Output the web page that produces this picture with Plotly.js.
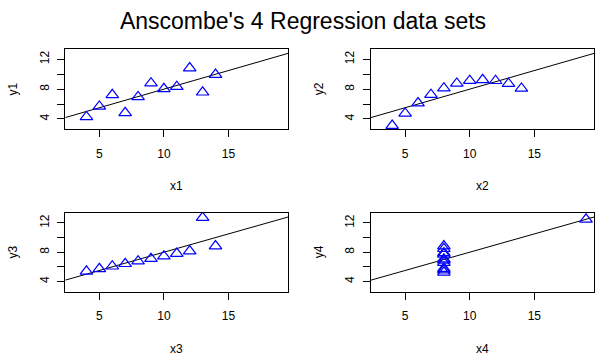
<!DOCTYPE html>
<html>
<head>
<meta charset="utf-8">
<script src="https://cdn.plot.ly/plotly-3.0.1.min.js"></script>
<style>html,body{margin:0;padding:0;background:#fff;}#chart{width:612px;height:358px;}</style>
</head>
<body>
<div id="chart"></div>
<script>
// Anscombe's quartet
const x1 = [10, 8, 13, 9, 11, 14, 6, 4, 12, 7, 5];
const x2 = [10, 8, 13, 9, 11, 14, 6, 4, 12, 7, 5];
const x3 = [10, 8, 13, 9, 11, 14, 6, 4, 12, 7, 5];
const x4 = [8, 8, 8, 8, 8, 8, 8, 19, 8, 8, 8];
const y1 = [8.04, 6.95, 7.58, 8.81, 8.33, 9.96, 7.24, 4.26, 10.84, 4.82, 5.68];
const y2 = [9.14, 8.14, 8.74, 8.77, 9.26, 8.10, 6.13, 3.10, 9.13, 7.26, 4.74];
const y3 = [7.46, 6.77, 12.74, 7.11, 7.81, 8.84, 6.08, 5.39, 8.15, 6.42, 5.73];
const y4 = [6.58, 5.76, 7.71, 8.84, 8.47, 7.04, 5.25, 12.50, 5.56, 7.91, 6.89];
const xLabels = ['x1', 'x2', 'x3', 'x4'];
const yLabels = ['y1', 'y2', 'y3', 'y4'];
const yTickVals = [4, 6, 8, 10, 12];
const yTickText = ['4', '', '8', '', '12'];
const xTickVals = [5, 10, 15];

const xs = [x1, x2, x3, x4];
const ys = [y1, y2, y3, y4];

const xRange = [2.36, 19.64];
const yRange = [2.6, 13.4];

function fit(x, y) {
  const n = x.length;
  const mx = x.reduce((a, b) => a + b, 0) / n;
  const my = y.reduce((a, b) => a + b, 0) / n;
  let sxy = 0, sxx = 0;
  for (let i = 0; i < n; i++) { sxy += (x[i] - mx) * (y[i] - my); sxx += (x[i] - mx) ** 2; }
  const b = sxy / sxx;
  return [my - b * mx, b];
}

const W = 612, H = 358;
const boxes = [
  {l: 65.3, r: 288.3, t: 49, b: 129.3},
  {l: 371, r: 594.3, t: 49, b: 129.3},
  {l: 65.3, r: 288.3, t: 212.7, b: 291.7},
  {l: 371, r: 594.3, t: 212.7, b: 291.7}
];

const FONT = 'Liberation Sans, Arial, sans-serif';
const data = [];
const layout = {
  width: W, height: H,
  margin: {l: 0, r: 0, t: 0, b: 0},
  paper_bgcolor: '#fff', plot_bgcolor: '#fff',
  showlegend: false,
  font: {family: FONT, color: '#000', size: 12},
  title: {text: "Anscombe's 4 Regression data sets", x: 303 / W, xanchor: 'center', y: 1 - 20.5 / H, yanchor: 'middle', font: {family: FONT, size: 23, color: '#000'}},
  annotations: []
};

for (let i = 0; i < 4; i++) {
  const k = i + 1;
  const xa = 'x' + (k === 1 ? '' : k), ya = 'y' + (k === 1 ? '' : k);
  const [a, b] = fit(xs[i], ys[i]);
  data.push({
    x: xRange, y: xRange.map(v => a + b * v), xaxis: xa, yaxis: ya,
    mode: 'lines', line: {color: '#000', width: 1}, hoverinfo: 'skip'
  });
  data.push({
    x: xs[i], y: ys[i], xaxis: xa, yaxis: ya, mode: 'markers',
    marker: {symbol: 'triangle-up-open', size: 11, color: '#0000ff', line: {width: 1.2, color: '#0000ff'}}
  });
  const bx = boxes[i];
  const axCommon = {
    showgrid: false, zeroline: false, showline: true, mirror: true,
    linecolor: '#000', linewidth: 1, ticks: 'outside', ticklen: 7, tickwidth: 1, tickcolor: '#000',
    fixedrange: true, tickfont: {family: FONT, size: 12, color: '#000'}
  };
  layout['xaxis' + (k === 1 ? '' : k)] = Object.assign({}, axCommon, {
    domain: [bx.l / W, bx.r / W], range: xRange, anchor: ya,
    tickmode: 'array', tickvals: xTickVals, ticktext: xTickVals.map(String), ticklabelstandoff: 6
  });
  layout['yaxis' + (k === 1 ? '' : k)] = Object.assign({}, axCommon, {
    domain: [1 - bx.b / H, 1 - bx.t / H], range: yRange, anchor: xa,
    tickmode: 'array', tickvals: yTickVals, ticktext: yTickText, tickangle: -90, ticklabelstandoff: 4
  });
  layout.annotations.push({
    text: xLabels[i], xref: 'paper', yref: 'paper', x: (bx.l + bx.r) / 2 / W, y: 1 - (bx.b + 57) / H,
    xanchor: 'center', yanchor: 'middle', showarrow: false, font: {family: FONT, size: 12, color: '#000'}
  });
  layout.annotations.push({
    text: yLabels[i], xref: 'paper', yref: 'paper', x: (bx.l - 52) / W, y: 1 - (bx.t + bx.b) / 2 / H,
    xanchor: 'center', yanchor: 'middle', textangle: -90, showarrow: false, font: {family: FONT, size: 12, color: '#000'}
  });
}

Plotly.newPlot('chart', data, layout, {displayModeBar: false, staticPlot: true});
</script>
</body>
</html>
